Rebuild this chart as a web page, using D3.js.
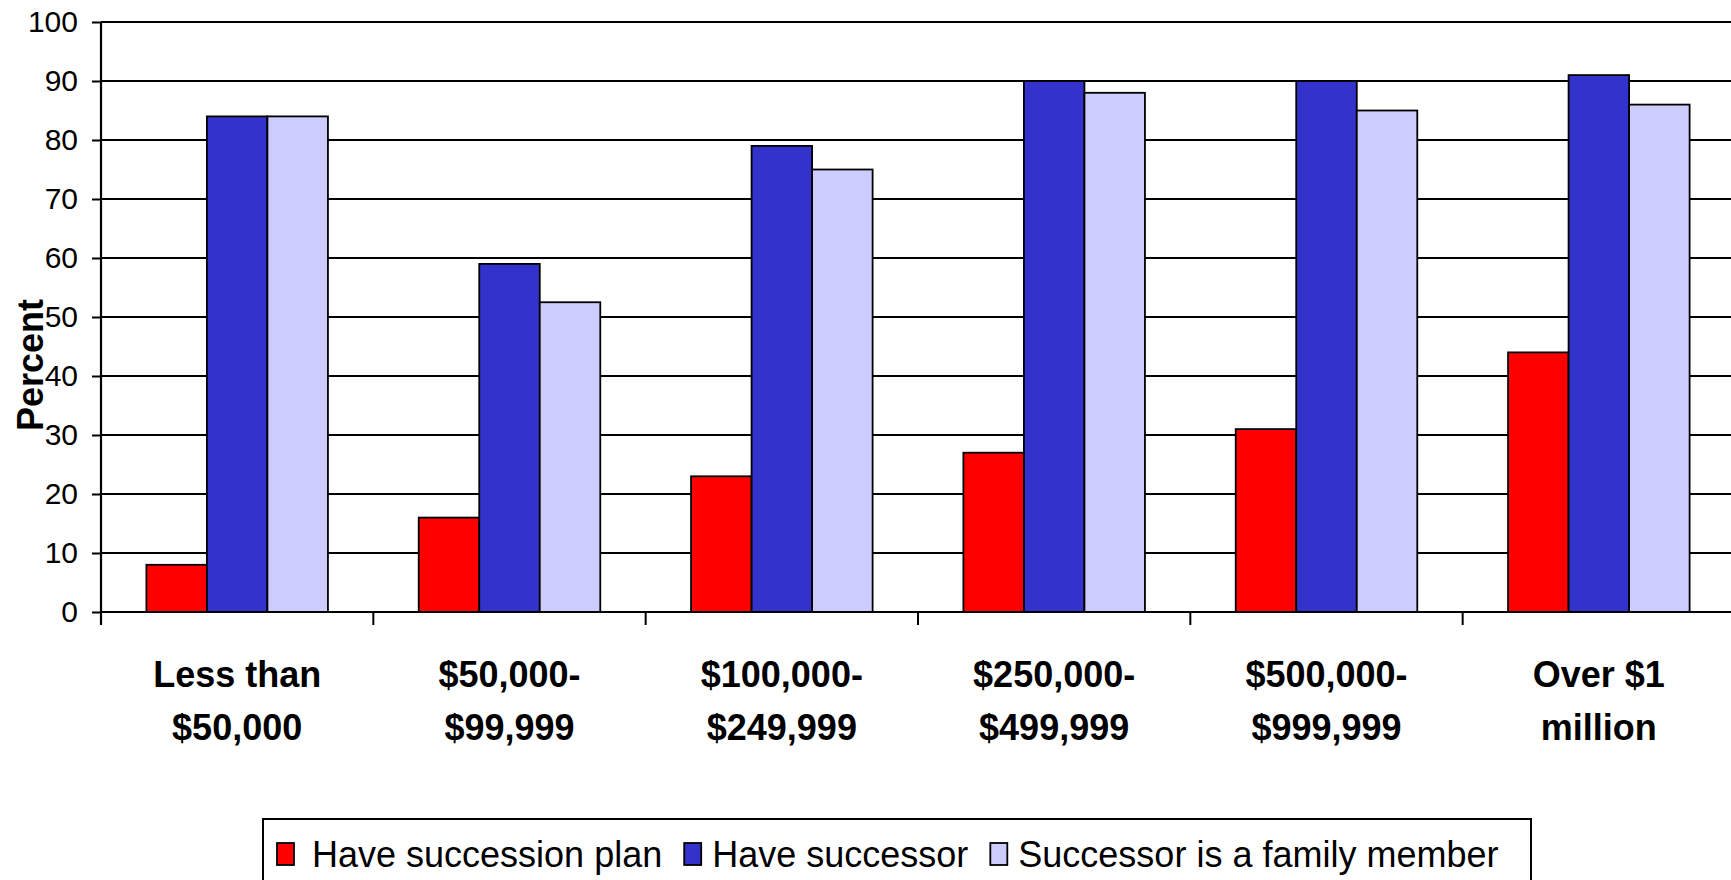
<!DOCTYPE html>
<html>
<head>
<meta charset="utf-8">
<script src="https://cdn.jsdelivr.net/npm/d3@7/dist/d3.min.js"></script>
<style>
  html, body { margin: 0; padding: 0; background: #fff; }
  svg { display: block; font-family: "Liberation Sans", Arial, sans-serif; }
</style>
</head>
<body>
<svg id="chart" width="1731" height="880"></svg>
<script>
// ---- data ----
const categories = [
  ["Less than", "$50,000"],
  ["$50,000-", "$99,999"],
  ["$100,000-", "$249,999"],
  ["$250,000-", "$499,999"],
  ["$500,000-", "$999,999"],
  ["Over $1", "million"]
];
const seriesNames = ["Have succession plan", "Have successor", "Successor is a family member"];
const haveSuccessionPlan = [8, 16, 23, 27, 31, 44];
const haveSuccessor = [84, 59, 79, 90, 90, 91];
const successorIsFamily = [84, 52.5, 75, 88, 85, 86];
const yTicks = [0, 10, 20, 30, 40, 50, 60, 70, 80, 90, 100];
const colors = ["#FF0000", "#3333CC", "#CCCCFF"];

const seriesValues = [haveSuccessionPlan, haveSuccessor, successorIsFamily];

// ---- layout ----
const svg = d3.select("#chart");
const plotLeft = 101, plotRight = 1735, plotTop = 22, plotBottom = 612;

const x0 = d3.scaleBand().domain(d3.range(categories.length)).range([plotLeft, plotRight]).paddingInner(0).paddingOuter(0);
const x1 = d3.scaleBand().domain(d3.range(seriesNames.length)).range([0, x0.bandwidth()]).paddingInner(0).paddingOuter(0.75);
const y = d3.scaleLinear().domain([0, 100]).range([plotBottom, plotTop]);

// gridlines
svg.append("g")
  .selectAll("line")
  .data(yTicks.filter(d => d > 0))
  .join("line")
  .attr("x1", plotLeft).attr("x2", 1731)
  .attr("y1", d => y(d)).attr("y2", d => y(d))
  .attr("stroke", "#000").attr("stroke-width", 2);

// bars
const groups = svg.append("g")
  .selectAll("g")
  .data(categories.map((c, i) => i))
  .join("g")
  .attr("transform", i => `translate(${x0(i)},0)`);

groups.selectAll("rect")
  .data(i => seriesValues.map((vals, s) => ({ s, v: vals[i] })))
  .join("rect")
  .attr("x", d => x1(d.s))
  .attr("width", x1.bandwidth())
  .attr("y", d => y(d.v))
  .attr("height", d => y(0) - y(d.v))
  .attr("fill", d => colors[d.s])
  .attr("stroke", "#000")
  .attr("stroke-width", 1.8);

// y axis
const yAxis = svg.append("g")
  .attr("transform", `translate(${plotLeft},0)`)
  .call(d3.axisLeft(y).tickValues(yTicks).tickSize(9).tickPadding(14).tickFormat(d3.format("d")));
yAxis.select(".domain").remove();
yAxis.selectAll(".tick line").attr("stroke", "#000").attr("stroke-width", 2);
yAxis.selectAll(".tick text")
  .attr("fill", "#000")
  .style("font-size", "30px")
  .style("font-family", "'Liberation Sans', Arial, sans-serif");
svg.append("line")
  .attr("x1", plotLeft).attr("x2", plotLeft)
  .attr("y1", plotTop).attr("y2", plotBottom + 13)
  .attr("stroke", "#000").attr("stroke-width", 2.2);

// x axis
svg.append("line")
  .attr("x1", plotLeft).attr("x2", 1731)
  .attr("y1", plotBottom).attr("y2", plotBottom)
  .attr("stroke", "#000").attr("stroke-width", 2.2);
svg.append("g")
  .selectAll("line")
  .data(d3.range(1, categories.length))
  .join("line")
  .attr("x1", i => x0(i)).attr("x2", i => x0(i))
  .attr("y1", plotBottom).attr("y2", plotBottom + 13)
  .attr("stroke", "#000").attr("stroke-width", 2);

// category labels
const catLabels = svg.append("g")
  .selectAll("text")
  .data(categories.map((c, i) => ({ c, i })))
  .join("text")
  .attr("x", d => x0(d.i) + x0.bandwidth() / 2)
  .attr("y", 687)
  .attr("text-anchor", "middle")
  .style("font-size", "36px")
  .style("font-weight", "bold")
  .attr("fill", "#000");
catLabels.selectAll("tspan")
  .data(d => d.c.map(line => ({ line, x: x0(d.i) + x0.bandwidth() / 2 })))
  .join("tspan")
  .attr("x", d => d.x)
  .attr("dy", (d, k) => k === 0 ? 0 : 53)
  .text(d => d.line);

// y title
svg.append("text")
  .attr("transform", `translate(43,365) rotate(-90)`)
  .attr("text-anchor", "middle")
  .style("font-size", "36px")
  .style("font-weight", "bold")
  .attr("fill", "#000")
  .text("Percent");

// legend
const legend = svg.append("g");
legend.append("rect")
  .attr("x", 263).attr("y", 819)
  .attr("width", 1531 - 263).attr("height", 100)
  .attr("fill", "#fff").attr("stroke", "#000").attr("stroke-width", 2);

let lx = 277;
seriesNames.forEach((name, s) => {
  legend.append("rect")
    .attr("x", lx).attr("y", 843)
    .attr("width", 17).attr("height", 22)
    .attr("fill", colors[s]).attr("stroke", "#000").attr("stroke-width", 1.8);
  const off = s === 0 ? 35 : 28;
  const t = legend.append("text")
    .attr("x", lx + off).attr("y", 867)
    .style("font-size", "36px")
    .attr("fill", "#000")
    .text(name);
  const w = t.node().getComputedTextLength();
  lx = lx + off + w + 22;
});
</script>
</body>
</html>
